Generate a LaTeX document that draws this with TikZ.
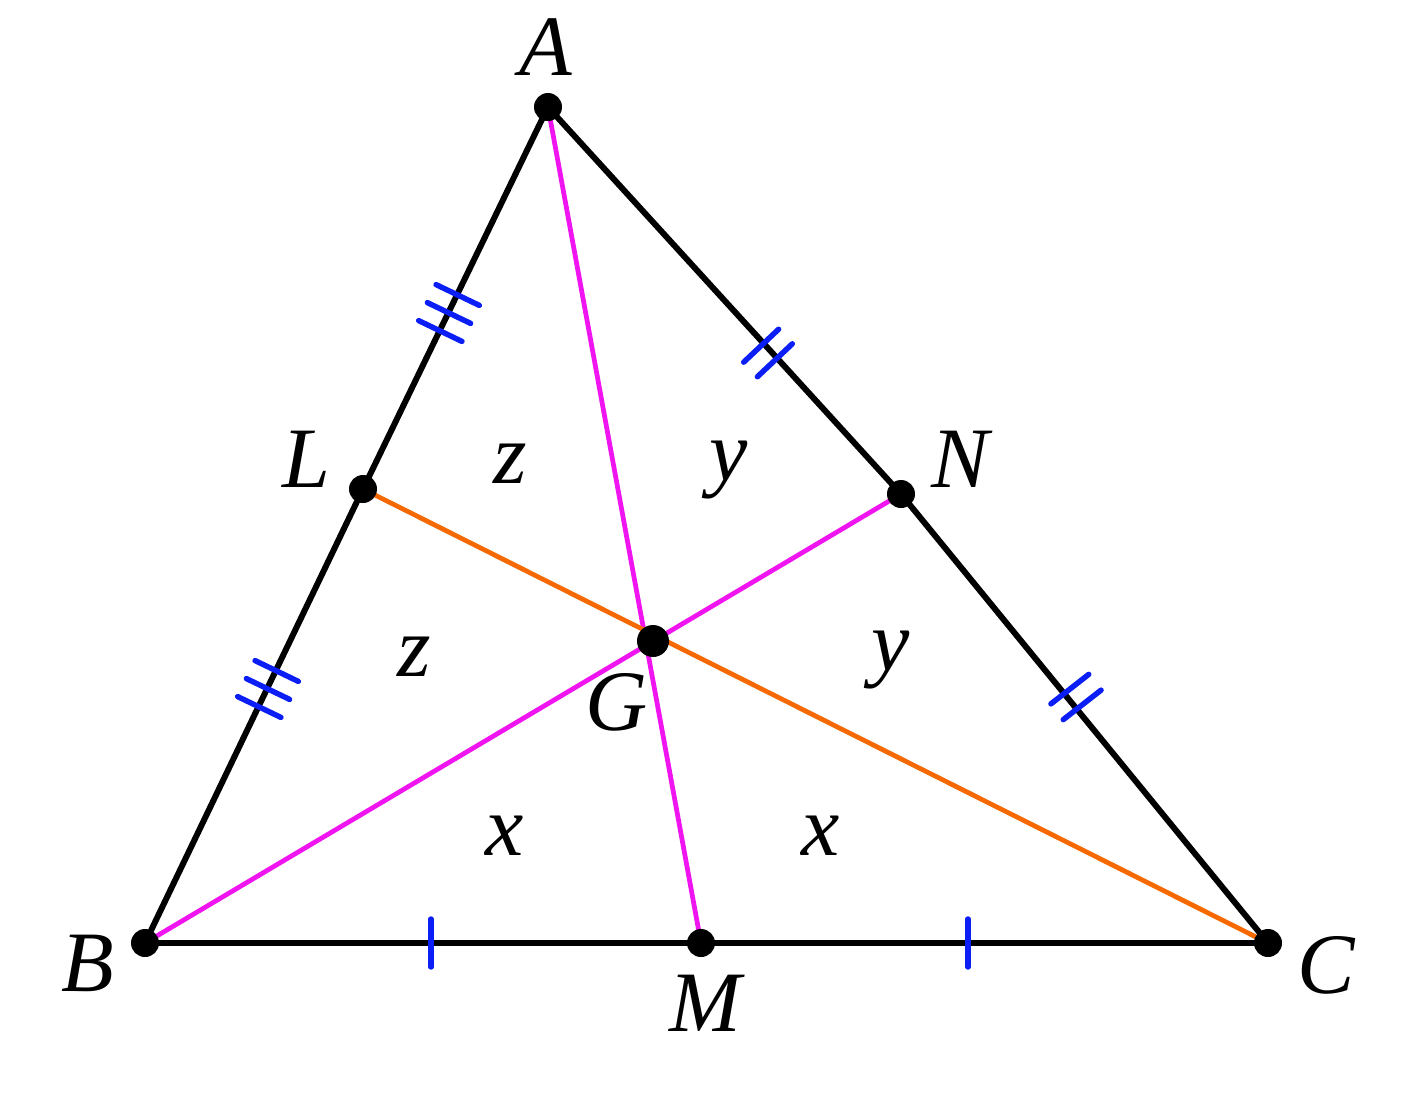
\documentclass[tikz,border=0pt]{standalone}
\usepackage{fontspec}
\setmainfont{Liberation Serif}
\newfontfamily\lblfont{Liberation Serif}
\usetikzlibrary{calc}
\definecolor{magc}{RGB}{240,20,240}
\definecolor{orgc}{RGB}{245,105,0}
\definecolor{tickblue}{RGB}{10,30,245}
\tikzset{
  edgeline/.style={line width=1.7pt, black},
  magline/.style={line width=1.35pt, magc},
  orgline/.style={line width=1.35pt, orgc},
  hashline/.style={line width=1.55pt, tickblue, line cap=round},
  dotmark/.style={circle, fill=black, inner sep=0pt, minimum size=0.28cm},
  bigdot/.style={circle, fill=black, inner sep=0pt, minimum size=0.32cm},
  lbl/.style={inner sep=0pt, font=\lblfont\fontsize{24.5}{28}\selectfont\itshape},
}
\newcommand\hashat[3]{%
  \foreach \o in {#3}{%
    \coordinate (hp) at ($(#1)!\o!(#2)$);
    \draw[hashline] ($(hp)!0.24cm!90:(#2)$) -- ($(hp)!0.24cm!-90:(#2)$);
  }}
\begin{document}
\begin{tikzpicture}
\useasboundingbox (0,0) rectangle (14.19,-11.08);
\fill[white] (0,0) rectangle (14.19,-11.08);
% points
\coordinate (A) at (5.48,-1.07);
\coordinate (B) at (1.45,-9.43);
\coordinate (C) at (12.68,-9.43);
\coordinate (M) at (7.01,-9.43);
\coordinate (L) at (3.63,-4.89);
\coordinate (N) at (9.01,-4.94);
\coordinate (G) at (6.53,-6.41);
% medians
\draw[magline] (A) -- (M);
\draw[magline] (B) -- (N);
\draw[orgline] (L) -- (C);
% sides
\draw[edgeline] (A) -- (L) -- (B) -- (M) -- (C) -- (N) -- cycle;
% tick marks
\coordinate (t1) at (4.49,-3.13);
\coordinate (t2) at (2.68,-6.89);
\coordinate (t3) at (7.68,-3.53);
\coordinate (t4) at (10.76,-6.97);
\coordinate (t5) at (4.31,-9.43);
\coordinate (t6) at (9.68,-9.43);
\hashat{t1}{A}{-0.2cm,0cm,0.2cm}
\hashat{t2}{A}{-0.2cm,0cm,0.2cm}
\hashat{t3}{N}{-0.1cm,0.1cm}
\hashat{t4}{C}{-0.1cm,0.1cm}
\hashat{t5}{C}{0cm}
\hashat{t6}{C}{0cm}
% dots
\node[dotmark] (dA) at (A) {};
\node[dotmark] (dB) at (B) {};
\node[dotmark] (dC) at (C) {};
\node[dotmark] (dM) at (M) {};
\node[dotmark] (dL) at (L) {};
\node[dotmark] (dN) at (N) {};
\node[bigdot] (dG) at (G) {};
% labels
\node[lbl] (lA) at (5.46,-0.47) {A};
\node[lbl] (lB) at (0.88,-9.63) {B};
\node[lbl] (lC) at (13.26,-9.65) {C};
\node[lbl] (lM) at (7.05,-10.03) {M};
\node[lbl] (lL) at (3.06,-4.59) {L};
\node[lbl] (lN) at (9.60,-4.59) {N};
\node[lbl] (lG) at (6.17,-7.02) {G};
\node[lbl] (z1) at (5.10,-4.64) {z};
\node[lbl] (y1) at (7.29,-4.70) {y};
\node[lbl] (z2) at (4.14,-6.57) {z};
\node[lbl] (y2) at (8.91,-6.60) {y};
\node[lbl] (x1) at (5.05,-8.36) {x};
\node[lbl] (x2) at (8.21,-8.36) {x};
\end{tikzpicture}
\end{document}
